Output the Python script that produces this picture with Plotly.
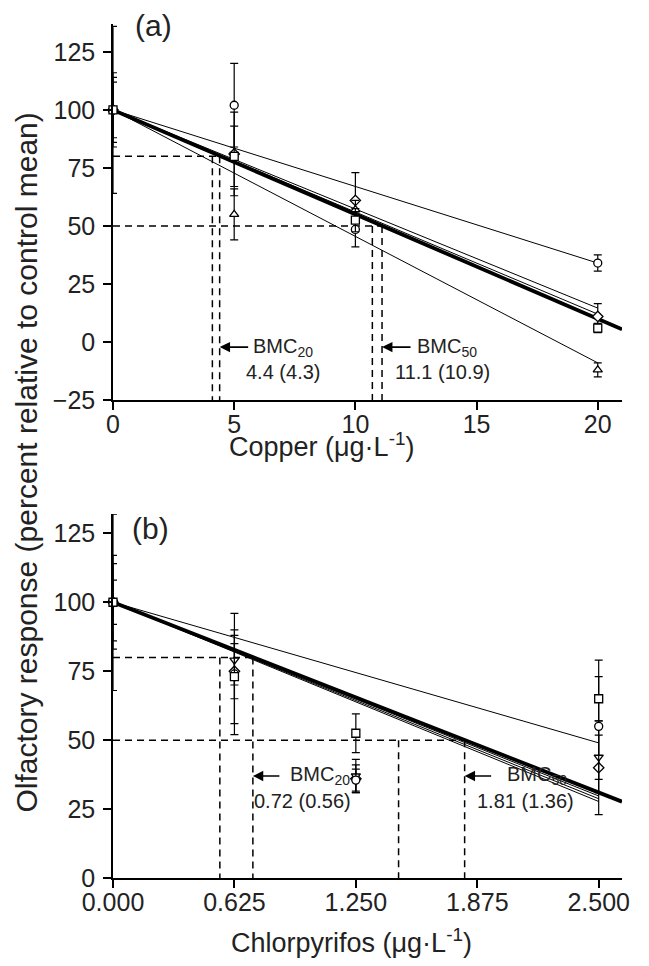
import plotly.graph_objects as go

# ---------------- data: panel (a) Copper ----------------
cu_x = [0, 5, 10, 20]
cu_circle = [100, 102, 48.5, 34]
cu_circle_err = [16, 18, 7.5, 3.5]
cu_square = [100, 80, 52.5, 6]
cu_square_err = [14, 13, 5, 2]
cu_triangle = [100, 55, 57, -12]
cu_triangle_err = [36, 11, 4, 3]
cu_diamond = [100, 81, 61, 11]
cu_diamond_err = [12, 18, 12, 5.5]
cu_fit_slopes = [-3.3, -4.27, -4.4, -5.45]   # thin regression lines (x 0..20)
cu_pooled_slope = -4.5                        # thick pooled line (x 0..21)
cu_bmc20 = [4.1, 4.4]
cu_bmc50 = [10.7, 11.1]
cu_xticks = [0, 5, 10, 15, 20]
cu_yticks = [-25, 0, 25, 50, 75, 100, 125]

# ---------------- data: panel (b) Chlorpyrifos ----------------
cp_x = [0, 0.625, 1.25, 2.5]
cp_square = [100, 73, 52.5, 65]
cp_square_err = [32, 17, 7, 8]
cp_circle = [100, 74, 35.5, 55]
cp_circle_err = [17, 22, 4, 24]
cp_tridown = [100, 79, 37, 43.8]
cp_tridown_err = [14, 9, 6, 8]
cp_diamond = [100, 75, 36, 40]
cp_diamond_err = [8, 10, 5, 17]
cp_fit_slopes = [-20.4, -28.1, -28.5, -28.9]  # thin lines (x 0..2.5)
cp_pooled_slope = -27.6                       # thick pooled line (x 0..2.62)
cp_bmc20 = [0.55, 0.72]
cp_bmc50 = [1.47, 1.81]
cp_xticks = [0, 0.625, 1.25, 1.875, 2.5]
cp_xticktext = ["0.000", "0.625", "1.250", "1.875", "2.500"]
cp_yticks = [0, 25, 50, 75, 100, 125]

FONT = "Liberation Sans, Arial, sans-serif"
TXT = "#222"
fig = go.Figure()


def line(x, y, xa, ya, width=1, dash=None):
    fig.add_trace(go.Scatter(x=x, y=y, mode="lines", xaxis=xa, yaxis=ya,
                             line=dict(color="black", width=width, dash=dash),
                             showlegend=False, hoverinfo="skip", cliponaxis=False))


def pts(x, y, err, symbol, xa, ya):
    fig.add_trace(go.Scatter(
        x=x, y=y, mode="markers", xaxis=xa, yaxis=ya, showlegend=False,
        cliponaxis=False,
        marker=dict(symbol=symbol, size=8, color="white",
                    line=dict(color="black", width=1.3)),
        error_y=dict(type="data", array=err, color="black", thickness=1.2, width=4)))


DASH = "7px,5px"
# ---- panel (a) lines ----
for s in cu_fit_slopes:
    line([0, 20], [100, 100 + s * 20], "x", "y", width=1)
line([0, 21], [100, 100 + cu_pooled_slope * 21], "x", "y", width=3.8)
line([0, cu_bmc20[1]], [80, 80], "x", "y", width=1.5, dash=DASH)
line([0, cu_bmc50[1]], [50, 50], "x", "y", width=1.5, dash=DASH)
for v in cu_bmc20:
    line([v, v], [80, -25], "x", "y", width=1.5, dash=DASH)
for v in cu_bmc50:
    line([v, v], [50, -25], "x", "y", width=1.5, dash=DASH)

# ---- panel (b) lines ----
for s in cp_fit_slopes:
    line([0, 2.5], [100, 100 + s * 2.5], "x2", "y2", width=1)
line([0, 2.62], [100, 100 + cp_pooled_slope * 2.62], "x2", "y2", width=3.8)
line([0, cp_bmc20[1]], [80, 80], "x2", "y2", width=1.5, dash=DASH)
line([0, cp_bmc50[1]], [50, 50], "x2", "y2", width=1.5, dash=DASH)
for v in cp_bmc20:
    line([v, v], [80, 0], "x2", "y2", width=1.5, dash=DASH)
for v in cp_bmc50:
    line([v, v], [50, 0], "x2", "y2", width=1.5, dash=DASH)

# ---- markers ----
pts(cu_x, cu_diamond, cu_diamond_err, "diamond", "x", "y")
pts(cu_x, cu_triangle, cu_triangle_err, "triangle-up", "x", "y")
pts(cu_x, cu_circle, cu_circle_err, "circle", "x", "y")
pts(cu_x, cu_square, cu_square_err, "square", "x", "y")

pts(cp_x, cp_diamond, cp_diamond_err, "diamond", "x2", "y2")
pts(cp_x, cp_tridown, cp_tridown_err, "triangle-down", "x2", "y2")
pts(cp_x, cp_circle, cp_circle_err, "circle", "x2", "y2")
pts(cp_x, cp_square, cp_square_err, "square", "x2", "y2")

axis_style = dict(showline=True, linecolor="black", linewidth=1.5, ticks="outside",
                  ticklen=8, tickwidth=1.5, tickcolor="black", showgrid=False,
                  zeroline=False, tickfont=dict(family=FONT, size=25, color=TXT))

annotations = []


def text(x, y, t, xref, yref, size=20, xanchor="center", yanchor="middle", angle=0):
    annotations.append(dict(x=x, y=y, xref=xref, yref=yref, text=t, showarrow=False,
                            xanchor=xanchor, yanchor=yanchor, textangle=angle,
                            font=dict(family=FONT, size=size, color=TXT)))


def arrow(x, y, xref, yref, ax):
    annotations.append(dict(x=x, y=y, xref=xref, yref=yref, text="", showarrow=True,
                            ax=ax, ay=0, arrowhead=2, arrowsize=1.3, arrowwidth=1.6,
                            arrowcolor="black"))


# panel labels
text(0.0387, 0.9988, "(a)", "paper", "paper", size=30, xanchor="left")
text(0.086, 126.8, "(b)", "x2", "y2", size=30, xanchor="left")

# BMC annotations (a)
arrow(cu_bmc20[1], -2.2, "x", "y", 30)
text(5.7, -2.2, "BMC<sub>20</sub>", "x", "y", xanchor="left")
text(7.0, -13, "4.4 (4.3)", "x", "y")
arrow(cu_bmc50[1], -2.2, "x", "y", 30)
text(12.45, -2.2, "BMC<sub>50</sub>", "x", "y", xanchor="left")
text(13.6, -13, "11.1 (10.9)", "x", "y")

# BMC annotations (b)
arrow(cp_bmc20[1], 37, "x2", "y2", 28)
text(0.9, 37, "BMC<sub>20</sub>", "x2", "y2", xanchor="left")
text(0.975, 28, "0.72 (0.56)", "x2", "y2")
arrow(cp_bmc50[1], 37, "x2", "y2", 28)
text(2.02, 37, "BMC<sub>50</sub>", "x2", "y2", xanchor="left")
text(2.125, 28, "1.81 (1.36)", "x2", "y2")

# axis titles
text(0.41, 0.5075, "Copper (μg·L<sup>-1</sup>)", "paper", "paper", size=27)
text(0.468, -0.074, "Chlorpyrifos (μg·L<sup>-1</sup>)", "paper", "paper", size=27)
text(-0.170, 0.487, "Olfactory response (percent relative to control mean)",
     "paper", "paper", size=30, angle=-90)

xstyle = dict(axis_style, ticklabelstandoff=-7)
ystyle = dict(axis_style, ticklabelstandoff=3)

fig.update_layout(
    width=633, height=950,
    margin=dict(l=105, r=11, t=16, b=80),
    paper_bgcolor="white", plot_bgcolor="white",
    font=dict(family=FONT, color=TXT),
    xaxis=dict(domain=[0, 1], range=[0, 21], anchor="y", tickvals=cu_xticks, **xstyle),
    yaxis=dict(domain=[0.5597, 1], range=[-25, 137], anchor="x", tickvals=cu_yticks,
               **ystyle),
    xaxis2=dict(domain=[0, 1], range=[0, 2.62], anchor="y2", tickvals=cp_xticks,
                ticktext=cp_xticktext, **xstyle),
    yaxis2=dict(domain=[0, 0.4262], range=[0, 132], anchor="x2", tickvals=cp_yticks,
                **ystyle),
    annotations=annotations,
)

fig.write_html("out.html")
